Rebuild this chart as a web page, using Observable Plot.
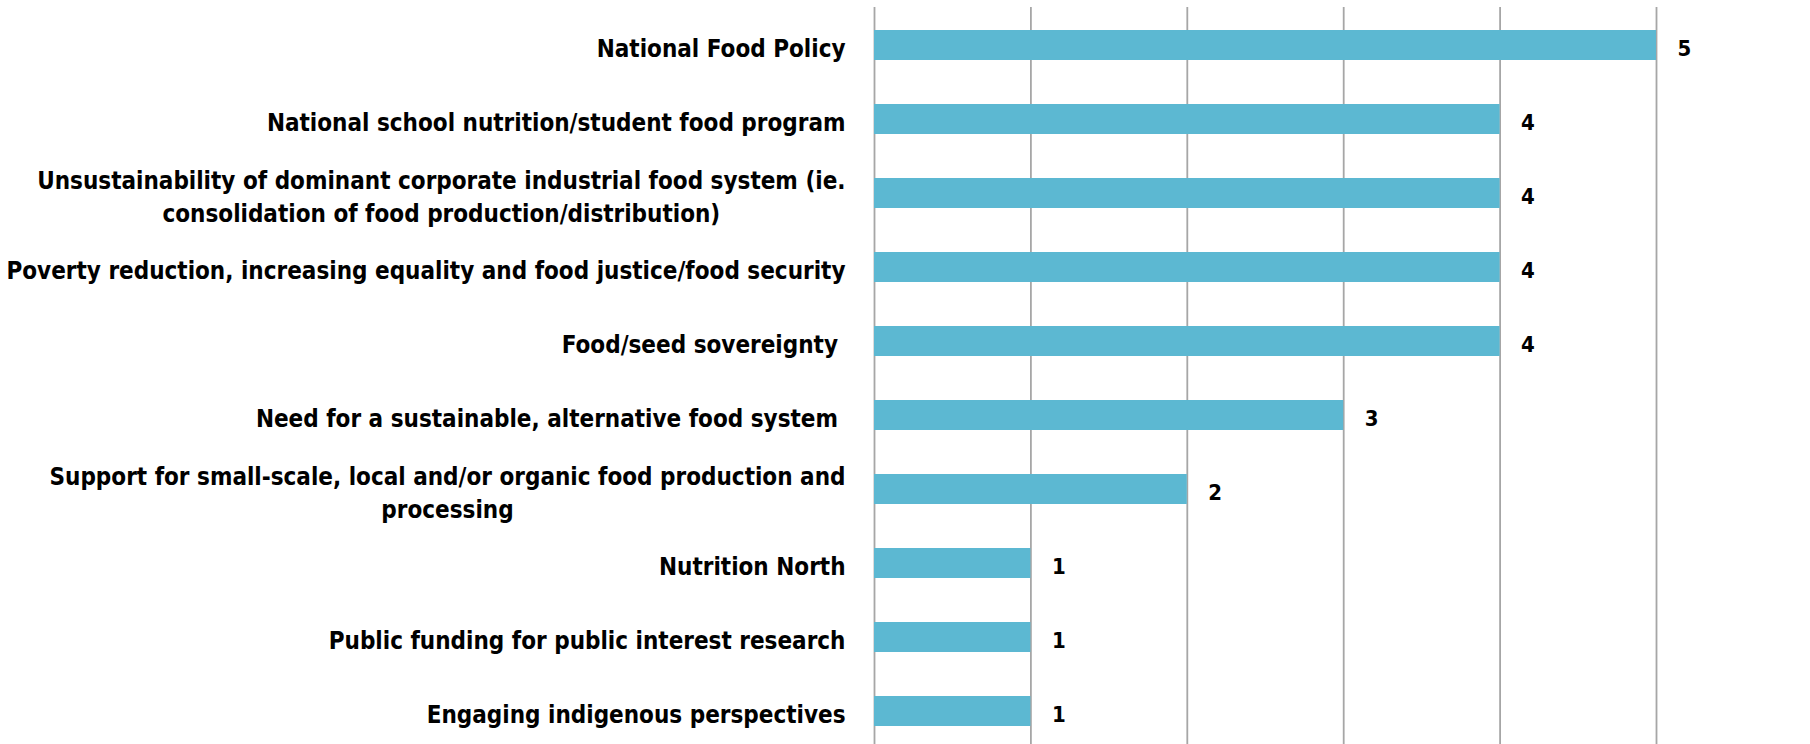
<!DOCTYPE html>
<html><head><meta charset="utf-8">
<script src="https://cdn.jsdelivr.net/npm/d3@7"></script>
<script src="https://cdn.jsdelivr.net/npm/@observablehq/plot@0.6"></script>
<style>
html,body{margin:0;padding:0;background:#fff;overflow:hidden;}
</style></head><body><div id="chart"></div>
<script>
const categories = [
  "National Food Policy",
  "National school nutrition/student food program",
  "Unsustainability of dominant corporate industrial food system (ie.\nconsolidation of food production/distribution)",
  "Poverty reduction, increasing equality and food justice/food security",
  "Food/seed sovereignty\u00a0",
  "Need for a sustainable, alternative food system\u00a0",
  "Support for small-scale, local and/or organic food production and\nprocessing",
  "Nutrition North",
  "Public funding for public interest research",
  "Engaging indigenous perspectives"
];
const values = [5, 4, 4, 4, 4, 3, 2, 1, 1, 1];
const xTicks = [0, 1, 2, 3, 4, 5];

const FONT = '"DejaVu Sans Condensed", "Liberation Sans Narrow", sans-serif';
const LABEL_SIZE = 24;
const VALUE_SIZE = 22;
const LABEL_GAP = 29;
const LINE_OFF = 16.5;
const BASE_DY = 4;

const data = categories.map((c, i) => ({label: c, value: values[i], lines: c.split("\n")}));
const single = data.filter(d => d.lines.length === 1);
const multi = data.filter(d => d.lines.length > 1);

const ctx = document.createElement("canvas").getContext("2d");
ctx.font = `bold ${LABEL_SIZE}px ${FONT}`;

const textStyle = {fontFamily: FONT, fontWeight: "bold", fill: "#000"};

const marks = [
  Plot.ruleX(xTicks, {stroke: "#a6a6a6", strokeWidth: 1.8}),
  Plot.barX(data, {y: "label", x: "value", fill: "#5cb8d2"}),
  Plot.text(data, {y: "label", x: "value", text: d => String(d.value), textAnchor: "start", dx: 21, dy: 3, fontSize: VALUE_SIZE, ...textStyle}),
  Plot.text(single, {y: "label", frameAnchor: "left", text: d => d.lines[0], textAnchor: "end", dx: -LABEL_GAP, dy: BASE_DY, fontSize: LABEL_SIZE, ...textStyle}),
  Plot.text(multi, {y: "label", frameAnchor: "left", text: d => d.lines[0], textAnchor: "end", dx: -LABEL_GAP, dy: BASE_DY - LINE_OFF, fontSize: LABEL_SIZE, ...textStyle})
];
for (const d of multi) {
  const w = ctx.measureText(d.lines[0]).width;
  marks.push(Plot.text([d], {y: "label", frameAnchor: "left", text: d => d.lines[1], textAnchor: "middle", dx: -LABEL_GAP - w / 2, dy: BASE_DY + LINE_OFF, fontSize: LABEL_SIZE, ...textStyle}));
}

const chart = Plot.plot({
  width: 1810,
  height: 748,
  marginTop: 7,
  marginBottom: 0,
  marginLeft: 874,
  marginRight: 154,
  x: {domain: [0, 5], axis: null},
  y: {domain: categories, paddingInner: 0.6, paddingOuter: 0.3, axis: null},
  style: {background: "#fff"},
  marks
});
document.getElementById("chart").appendChild(chart);
</script>
</body></html>
